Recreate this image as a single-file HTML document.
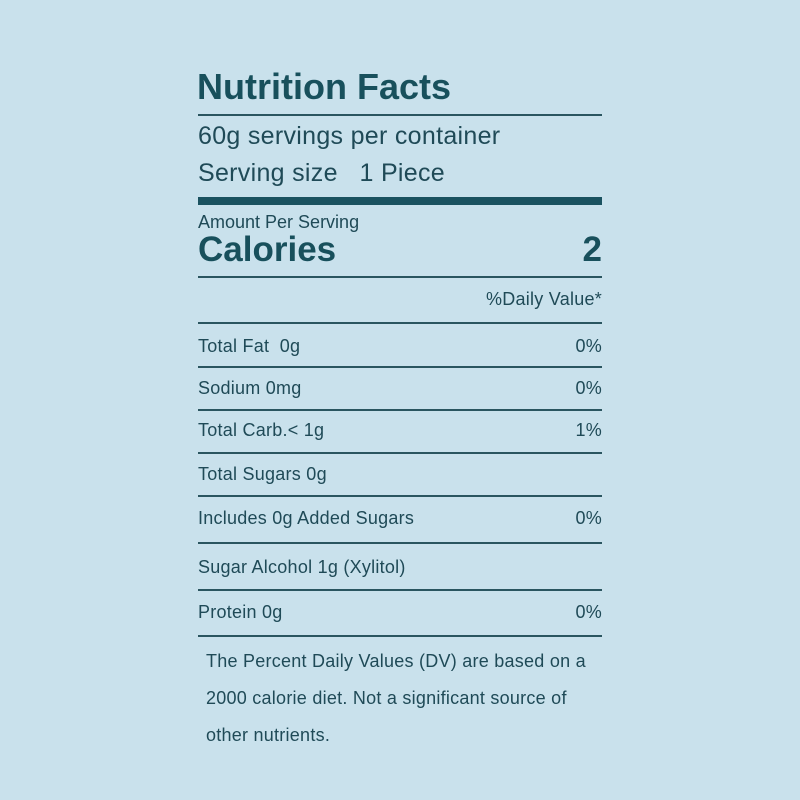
<!DOCTYPE html>
<html><head><style>
html,body{margin:0;padding:0;}
body{width:800px;height:800px;background:#c9e1ec;position:relative;overflow:hidden;font-family:"Liberation Sans",sans-serif;color:#1f4a57;}
.t{position:absolute;white-space:nowrap;}
.r{position:absolute;right:198px;white-space:nowrap;}
.l{position:absolute;left:198px;width:404px;background:#2a5560;}
.s{font-size:18px;letter-spacing:0.25px;}
</style></head><body>
<div class="t" style="left:197px;top:66px;font-size:36px;font-weight:bold;color:#18505c;">Nutrition Facts</div>
<div class="l" style="top:114px;height:2px;"></div>
<div class="t" style="left:198px;top:122px;font-size:25px;letter-spacing:0.3px;">60g servings per container</div>
<div class="t" style="left:198px;top:159px;font-size:25px;letter-spacing:0.3px;">Serving size&nbsp;&nbsp; 1 Piece</div>
<div class="l" style="top:197px;height:8px;background:#1a5260;"></div>
<div class="t" style="left:198px;top:212px;font-size:18px;">Amount Per Serving</div>
<div class="t" style="left:198px;top:230px;font-size:35px;font-weight:bold;color:#18505c;">Calories</div>
<div class="r" style="top:230px;font-size:35px;font-weight:bold;color:#18505c;">2</div>
<div class="l" style="top:276px;height:2px;"></div>
<div class="r s" style="top:289px;">%Daily Value*</div>
<div class="l" style="top:322px;height:2px;"></div>
<div class="t s" style="left:198px;top:336px;">Total Fat&nbsp; 0g</div><div class="r s" style="top:336px;">0%</div>
<div class="l" style="top:366px;height:2px;"></div>
<div class="t s" style="left:198px;top:378px;">Sodium 0mg</div><div class="r s" style="top:378px;">0%</div>
<div class="l" style="top:409px;height:2px;"></div>
<div class="t s" style="left:198px;top:420px;">Total Carb.&lt; 1g</div><div class="r s" style="top:420px;">1%</div>
<div class="l" style="top:452px;height:2px;"></div>
<div class="t s" style="left:198px;top:464px;">Total Sugars 0g</div>
<div class="l" style="top:495px;height:2px;"></div>
<div class="t s" style="left:198px;top:508px;">Includes 0g Added Sugars</div><div class="r s" style="top:508px;">0%</div>
<div class="l" style="top:542px;height:2px;"></div>
<div class="t s" style="left:198px;top:557px;">Sugar Alcohol 1g (Xylitol)</div>
<div class="l" style="top:589px;height:2px;"></div>
<div class="t s" style="left:198px;top:602px;">Protein 0g</div><div class="r s" style="top:602px;">0%</div>
<div class="l" style="top:635px;height:2px;"></div>
<div class="t s" style="left:206px;top:651px;">The Percent Daily Values (DV) are based on a</div>
<div class="t s" style="left:206px;top:688px;">2000 calorie diet. Not a significant source of</div>
<div class="t s" style="left:206px;top:725px;">other nutrients.</div>
</body></html>
